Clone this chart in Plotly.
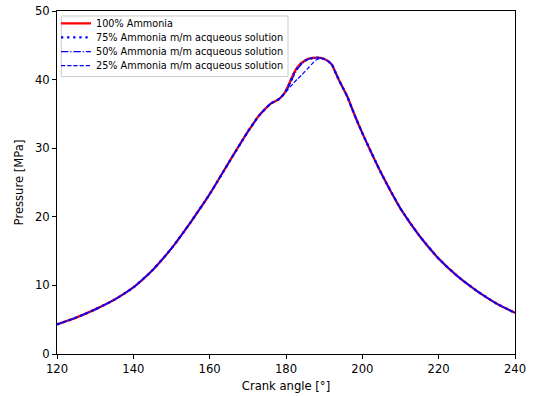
import plotly.graph_objects as go

angle = [120, 125, 130, 135, 140, 145, 150, 155, 160, 165, 170, 173, 176, 178, 179, 180,
         181, 182, 183, 184, 185, 186, 187, 188, 189, 190, 191, 192, 193, 194, 195, 196,
         198, 200, 205, 210, 215, 220, 225, 230, 235, 240]

p100 = [4.3, 5.3, 6.5, 7.9, 9.7, 12.2, 15.4, 19.2, 23.3, 27.9, 32.4, 34.8, 36.5, 37.1, 37.6, 38.4,
        39.6, 40.9, 41.8, 42.4, 42.8, 43.05, 43.15, 43.2, 43.15, 43.0, 42.7, 42.2, 41.0, 39.8, 38.7, 37.6,
        34.8, 32.2, 26.3, 21.2, 17.2, 13.9, 11.3, 9.2, 7.4, 6.0]

p75 = [4.3, 5.3, 6.5, 7.9, 9.7, 12.2, 15.4, 19.2, 23.3, 27.9, 32.4, 34.8, 36.5, 37.1, 37.6, 38.4,
       39.5, 40.8, 41.7, 42.35, 42.75, 43.0, 43.15, 43.2, 43.15, 43.0, 42.7, 42.2, 41.0, 39.8, 38.7, 37.6,
       34.8, 32.2, 26.3, 21.2, 17.2, 13.9, 11.3, 9.2, 7.4, 6.0]

p50 = [4.3, 5.3, 6.5, 7.9, 9.7, 12.2, 15.4, 19.2, 23.3, 27.9, 32.4, 34.8, 36.5, 37.1, 37.6, 38.3,
       39.3, 40.5, 41.5, 42.2, 42.7, 43.0, 43.1, 43.2, 43.15, 43.0, 42.7, 42.2, 41.0, 39.8, 38.7, 37.6,
       34.8, 32.2, 26.3, 21.2, 17.2, 13.9, 11.3, 9.2, 7.4, 6.0]

p25 = [4.3, 5.3, 6.5, 7.9, 9.7, 12.2, 15.4, 19.2, 23.3, 27.9, 32.4, 34.8, 36.5, 37.1, 37.6, 38.2,
       38.9, 39.5, 40.1, 40.6, 41.2, 41.8, 42.4, 42.9, 43.1, 43.0, 42.7, 42.2, 41.0, 39.8, 38.7, 37.6,
       34.8, 32.2, 26.3, 21.2, 17.2, 13.9, 11.3, 9.2, 7.4, 6.0]

names = ["100% Ammonia",
         "75% Ammonia m/m acqueous solution",
         "50% Ammonia m/m acqueous solution",
         "25% Ammonia m/m acqueous solution"]

x_ticks = [120, 140, 160, 180, 200, 220, 240]
y_ticks = [0, 10, 20, 30, 40, 50]

font = "DejaVu Sans"

series = [p100, p75, p50, p25]
styles = [dict(color="#ff0000", width=2.3),
          dict(color="#0000ff", width=2.3, dash="2.3px,3.8px"),
          dict(color="#0000ff", width=1.2, dash="7.4px,1.9px,1.2px,1.9px"),
          dict(color="#0000ff", width=1.2, dash="4.3px,1.9px")]
legend_ids = ["legend", "legend2", "legend3", "legend4"]

fig = go.Figure()
for ys, st, nm, lg in zip(series, styles, names, legend_ids):
    fig.add_trace(go.Scatter(x=angle, y=ys, name=nm, mode="lines", legend=lg,
                             line=dict(shape="spline", smoothing=0.5, **st)))

axis_common = dict(showline=True, mirror=True, linecolor="black", linewidth=1,
                   ticks="outside", ticklen=4, tickwidth=1, tickcolor="black",
                   showgrid=False, zeroline=False, automargin=False,
                   tickfont=dict(family=font, size=11.6, color="black"))

# legend frame (plot-area pixel geometry: 458 x 344)
PW, PH = 458.0, 344.0
frame = dict(type="rect", xref="paper", yref="paper",
             x0=4.3 / PW, x1=231.0 / PW, y0=1 - 65.7 / PH, y1=1 - 5.0 / PH,
             line=dict(color="#cccccc", width=1), fillcolor="rgba(255,255,255,0.8)",
             layer="above")

row_px = [13.3, 27.3, 41.7, 55.7]
legend_common = dict(xanchor="left", yanchor="middle", bgcolor="rgba(0,0,0,0)",
                     borderwidth=0, font=dict(family=font, size=9.7),
                     itemwidth=30)
legends = {lg: dict(x=-1.0 / PW, y=1 - r / PH, **legend_common)
           for lg, r in zip(legend_ids, row_px)}

fig.update_layout(
    width=534, height=396,
    margin=dict(l=57, r=19, t=10, b=42),
    paper_bgcolor="white", plot_bgcolor="white",
    font=dict(family=font, size=11.6, color="black"),
    xaxis=dict(range=[120, 240], tickvals=x_ticks,
               title=dict(text="Crank angle [°]", font=dict(family=font, size=11.6), standoff=6),
               **axis_common),
    yaxis=dict(range=[0, 50], tickvals=y_ticks,
               title=dict(text="Pressure [MPa]", font=dict(family=font, size=11.6), standoff=8),
               **axis_common),
    shapes=[frame],
    showlegend=True,
    **legends,
)

fig.write_html("out.html", config={"displayModeBar": False},
               post_script="document.body.style.margin='0';")
